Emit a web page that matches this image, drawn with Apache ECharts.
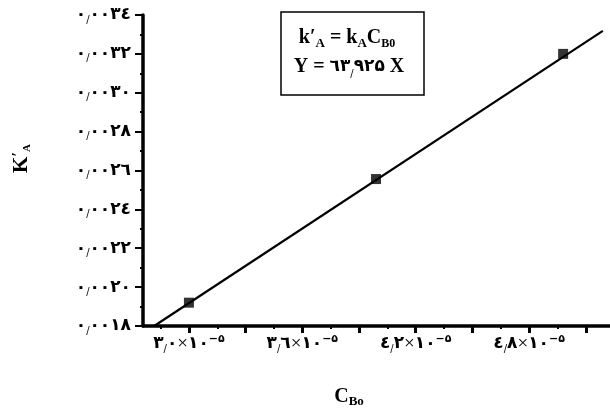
<!DOCTYPE html>
<html>
<head>
<meta charset="utf-8">
<script src="https://cdn.jsdelivr.net/npm/echarts@6/dist/echarts.min.js"></script>
<style>
html, body { margin: 0; padding: 0; background: #fff; }
#chart { width: 610px; height: 414px; }
</style>
</head>
<body>
<div id="chart"></div>
<script>
// measured points (C_Bo, k'_A)
const cboValues = [3.0e-5, 3.99e-5, 4.98e-5];
const kaValues = [0.00192, 0.002556, 0.0032];

// fitted line end points
const fitX = [2.816e-5, 5.19e-5];
const fitY = [0.0018, 0.003318];

// axis ticks
const xMajorTicks = [3.0e-5, 3.3e-5, 3.6e-5, 3.9e-5, 4.2e-5, 4.5e-5, 4.8e-5, 5.1e-5];
const xMinorTicks = [2.85e-5, 3.15e-5, 3.45e-5, 3.75e-5, 4.05e-5, 4.35e-5, 4.65e-5, 4.95e-5];
const xLabelTicks = [3.0e-5, 3.6e-5, 4.2e-5, 4.8e-5];
const slopeText = '63.925';

const digits = '٠١٢٣٤۵٦٧٨٩';
function toFa(s) {
    return s.replace(/[0-9]/g, d => digits[+d]);
}
// split "0.0034" into rich parts so the decimal mark stays small and in order
function decimalRich(s, main) {
    const p = s.split('.');
    return '{' + main + '|' + toFa(p[0]) + '}{c|/}{' + main + '|' + toFa(p[1]) + '}';
}

const chart = echarts.init(document.getElementById('chart'));
const font = '"Liberation Serif", "DejaVu Serif", serif';
const arab = '"DejaVu Sans", sans-serif';
const black = '#000';

const option = {
    animation: false,
    grid: { left: 143, right: 0, top: 15, bottom: 88 },
    xAxis: [{
        type: 'value',
        position: 'bottom',
        min: 2.757e-5,
        max: 5.228e-5,
        axisLine: { lineStyle: { color: black, width: 3.5 } },
        axisTick: { customValues: xMajorTicks, length: 7, lineStyle: { color: black, width: 3 } },
        splitLine: { show: false },
        axisLabel: {
            customValues: xLabelTicks,
            margin: 8,
            formatter: v => decimalRich((v * 1e5).toFixed(1), 'n') + '{x|×}{n|' + toFa('10') + '}{s|−' + digits[5] + '}',
            rich: {
                n: { fontFamily: arab, fontWeight: 'bold', fontSize: 17, color: black, lineHeight: 20 },
                c: { fontFamily: arab, fontSize: 10, color: black, verticalAlign: 'bottom', lineHeight: 20 },
                x: { fontFamily: font, fontSize: 19, color: black, lineHeight: 20 },
                s: { fontFamily: arab, fontWeight: 'bold', fontSize: 11, color: black, verticalAlign: 'top', lineHeight: 20 }
            }
        },
        name: '{c|C}{b|Bo}',
        nameLocation: 'middle',
        nameGap: 60,
        nameTextStyle: {
            padding: [0, 55, 0, 0],
            rich: {
                c: { fontFamily: font, fontWeight: 'bold', fontSize: 20, color: black, lineHeight: 22 },
                b: { fontFamily: font, fontWeight: 'bold', fontSize: 13, color: black, verticalAlign: 'bottom', lineHeight: 22, padding: [8, 0, 0, 0] }
            }
        }
    }, {
        type: 'value',
        position: 'bottom',
        offset: 0,
        min: 2.757e-5,
        max: 5.228e-5,
        axisLine: { show: false },
        axisTick: { customValues: xMinorTicks, length: 3, lineStyle: { color: black, width: 2 } },
        axisLabel: { show: false },
        splitLine: { show: false }
    }],
    yAxis: {
        type: 'value',
        min: 0.0018,
        max: 0.0034,
        interval: 0.0002,
        axisLine: { show: true, lineStyle: { color: black, width: 3.5 } },
        axisTick: { show: true, length: 8, lineStyle: { color: black, width: 2 } },
        minorTick: { show: true, splitNumber: 2, length: 3, lineStyle: { color: black, width: 2 } },
        splitLine: { show: false },
        axisLabel: {
            margin: 12,
            formatter: v => decimalRich(v.toFixed(4), 'n'),
            rich: {
                n: { fontFamily: arab, fontWeight: 'bold', fontSize: 17, color: black, lineHeight: 20 },
                c: { fontFamily: arab, fontSize: 10, color: black, verticalAlign: 'bottom', lineHeight: 20 }
            }
        },
        name: '{k|K}{p|′}{a|A}',
        nameLocation: 'middle',
        nameRotate: 90,
        nameGap: 110,
        nameTextStyle: {
            padding: [0, 0, 0, 24],
            rich: {
                k: { fontFamily: font, fontWeight: 'bold', fontSize: 21, color: black, lineHeight: 22 },
                p: { fontFamily: font, fontWeight: 'bold', fontSize: 16, color: black, verticalAlign: 'top', lineHeight: 22 },
                a: { fontFamily: font, fontWeight: 'bold', fontSize: 11, color: black, verticalAlign: 'bottom', lineHeight: 22, padding: [8, 0, 0, 0] }
            }
        }
    },
    series: [{
        type: 'line',
        data: fitX.map((x, i) => [x, fitY[i]]),
        symbol: 'none',
        lineStyle: { color: black, width: 2.2 },
        z: 2
    }, {
        type: 'scatter',
        data: cboValues.map((x, i) => [x, kaValues[i]]),
        symbol: 'rect',
        symbolSize: 10,
        itemStyle: { color: black },
        z: 3
    }],
    graphic: [{
        type: 'rect',
        shape: { x: 281, y: 12, width: 143, height: 83 },
        style: { fill: '#fff', stroke: black, lineWidth: 1.5 }
    }, {
        type: 'text',
        x: 347,
        y: 38,
        style: {
            text: '{b|k′}{s|A}{b| = k}{s|A}{b|C}{t|B0}',
            align: 'center',
            verticalAlign: 'middle',
            rich: {
                b: { fontFamily: font, fontWeight: 'bold', fontSize: 20, fill: black, lineHeight: 24 },
                s: { fontFamily: font, fontWeight: 'bold', fontSize: 13, fill: black, verticalAlign: 'bottom', lineHeight: 24, padding: [8, 0, 0, 0] },
                t: { fontFamily: font, fontWeight: 'bold', fontSize: 12, fill: black, verticalAlign: 'bottom', lineHeight: 24, padding: [7, 0, 0, 0] }
            }
        }
    }, {
        type: 'text',
        x: 349,
        y: 67,
        style: {
            text: '{b|Y = }' + decimalRich(slopeText, 'd') + '{b| X}',
            align: 'center',
            verticalAlign: 'middle',
            rich: {
                b: { fontFamily: font, fontWeight: 'bold', fontSize: 20, fill: black, lineHeight: 24 },
                d: { fontFamily: arab, fontWeight: 'bold', fontSize: 17, fill: black, lineHeight: 24 },
                c: { fontFamily: arab, fontSize: 10, fill: black, verticalAlign: 'bottom', lineHeight: 24 }
            }
        }
    }]
};

chart.setOption(option);
window.addEventListener('resize', () => chart.resize());
</script>
</body>
</html>
